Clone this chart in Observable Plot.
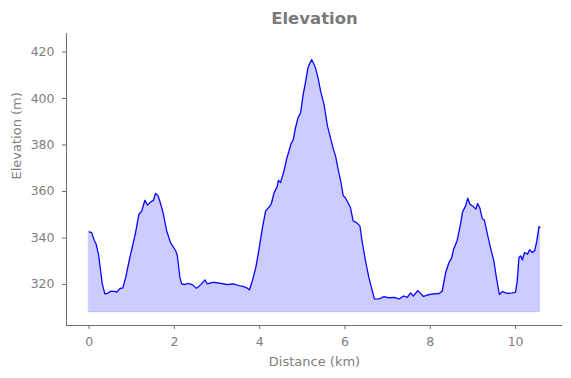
<!DOCTYPE html>
<html>
<head>
<meta charset="utf-8">
<script src="https://cdn.jsdelivr.net/npm/d3@7"></script>
<script src="https://cdn.jsdelivr.net/npm/@observablehq/plot@0.6"></script>
<style>
  html, body { margin: 0; padding: 0; background: white; }
</style>
</head>
<body>
<div id="chart"></div>
<script>
const distance = [0, 0.06, 0.12, 0.16, 0.22, 0.26, 0.31, 0.37, 0.43, 0.51, 0.59, 0.65, 0.73, 0.79, 0.86, 0.94, 1.02, 1.09, 1.17, 1.23, 1.31, 1.37, 1.43, 1.51, 1.56, 1.62, 1.68, 1.74, 1.82, 1.91, 2.03, 2.07, 2.13, 2.17, 2.24, 2.32, 2.42, 2.52, 2.62, 2.72, 2.77, 2.92, 3.09, 3.24, 3.38, 3.52, 3.63, 3.71, 3.76, 3.83, 3.91, 3.98, 4.06, 4.14, 4.22, 4.27, 4.34, 4.41, 4.44, 4.49, 4.57, 4.63, 4.71, 4.73, 4.79, 4.84, 4.90, 4.96, 5.02, 5.08, 5.13, 5.18, 5.22, 5.26, 5.31, 5.37, 5.43, 5.51, 5.59, 5.66, 5.73, 5.78, 5.84, 5.90, 5.96, 6.01, 6.08, 6.13, 6.19, 6.27, 6.35, 6.40, 6.48, 6.56, 6.62, 6.69, 6.80, 6.91, 7.03, 7.15, 7.27, 7.38, 7.46, 7.54, 7.60, 7.71, 7.84, 7.97, 8.09, 8.20, 8.28, 8.36, 8.44, 8.50, 8.55, 8.63, 8.71, 8.76, 8.83, 8.88, 8.93, 9.01, 9.07, 9.11, 9.16, 9.22, 9.27, 9.34, 9.41, 9.49, 9.55, 9.62, 9.69, 9.81, 9.92, 10.00, 10.04, 10.08, 10.12, 10.16, 10.21, 10.28, 10.33, 10.39, 10.45, 10.50, 10.55, 10.57];
const elevation = [342.6, 342.3, 339.0, 337.6, 333.0, 327.3, 320.2, 315.9, 316.1, 317.0, 317.0, 316.7, 318.3, 318.4, 323.0, 330.2, 336.6, 342.3, 350.2, 351.3, 356.2, 354.1, 355.2, 356.2, 359.2, 358.1, 354.5, 350.5, 343.0, 338.0, 334.5, 332.3, 323.0, 320.2, 319.9, 320.4, 319.9, 318.3, 319.9, 321.9, 320.2, 320.9, 320.4, 319.9, 320.2, 319.4, 319.0, 318.4, 317.6, 321.6, 327.3, 334.5, 343.8, 351.6, 353.3, 354.5, 359.5, 362.0, 364.8, 363.8, 368.8, 373.8, 378.8, 380.3, 382.4, 387.4, 391.7, 393.8, 401.7, 407.4, 413.1, 415.3, 416.7, 415.3, 413.1, 408.8, 403.1, 397.4, 388.1, 383.1, 378.1, 375.2, 369.5, 364.5, 358.1, 357.3, 354.8, 353.0, 347.3, 346.6, 345.2, 338.8, 330.2, 323.0, 318.7, 313.7, 313.7, 314.7, 314.2, 314.4, 313.7, 315.0, 314.4, 316.3, 314.9, 317.3, 314.8, 315.6, 315.9, 316.0, 317.0, 325.0, 329.4, 331.3, 335.2, 338.8, 345.9, 351.3, 353.8, 357.1, 354.5, 353.5, 352.4, 354.8, 353.0, 348.3, 347.6, 341.6, 335.9, 330.2, 323.0, 315.6, 316.9, 316.1, 316.3, 316.6, 321.6, 331.6, 332.3, 330.5, 333.7, 333.0, 334.9, 333.7, 334.5, 338.8, 344.9, 344.5];
const fillBase = 308;
const xTicks = [0, 2, 4, 6, 8, 10];
const yTicks = [320, 340, 360, 380, 400, 420];
const xDomain = [-0.53, 11.1];
const yDomain = [302.3, 428];
const titleText = "Elevation";
const xLabel = "Distance (km)";
const yLabel = "Elevation (m)";

const data = distance.map((d, i) => ({d, e: elevation[i]}));

const spine = "#6e6e6e";
const textGray = "#808080";

const chart = Plot.plot({
  width: 571,
  height: 378,
  marginLeft: 66,
  marginRight: 9,
  marginTop: 33,
  marginBottom: 53,
  style: {fontFamily: "DejaVu Sans", fontSize: "12.5px", background: "white", overflow: "visible"},
  x: {domain: xDomain},
  y: {domain: yDomain},
  marks: [
    Plot.areaY(data, {x: "d", y1: fillBase, y2: "e", fill: "#ccccff", stroke: "#0000ff", strokeOpacity: 0.15, strokeWidth: 1}),
    Plot.lineY(data, {x: "d", y: "e", stroke: "#0000ff", strokeWidth: 1.2}),
    Plot.ruleX([xDomain[0]], {stroke: spine, strokeWidth: 1}),
    Plot.ruleY([yDomain[0]], {stroke: spine, strokeWidth: 1}),
    Plot.axisX({ticks: xTicks, tickSize: 4, tickPadding: 8, stroke: spine, fill: textGray, label: null, fontSize: 12.5}),
    Plot.axisY({ticks: yTicks, tickSize: 4, tickPadding: 8, stroke: spine, fill: textGray, label: null, fontSize: 12.5}),
    Plot.text([xLabel], {text: d => d, frameAnchor: "bottom", lineAnchor: "middle", dy: 36, fill: textGray, fontSize: 13}),
    Plot.text([yLabel], {text: d => d, frameAnchor: "left", dx: -50, rotate: -90, fill: textGray, fontSize: 13}),
    Plot.text([titleText], {text: d => d, frameAnchor: "top", lineAnchor: "middle", dy: -15, fill: "#7a7a7a", fontSize: 16.5, fontWeight: "bold"})
  ]
});
document.getElementById("chart").appendChild(chart);
</script>
</body>
</html>
